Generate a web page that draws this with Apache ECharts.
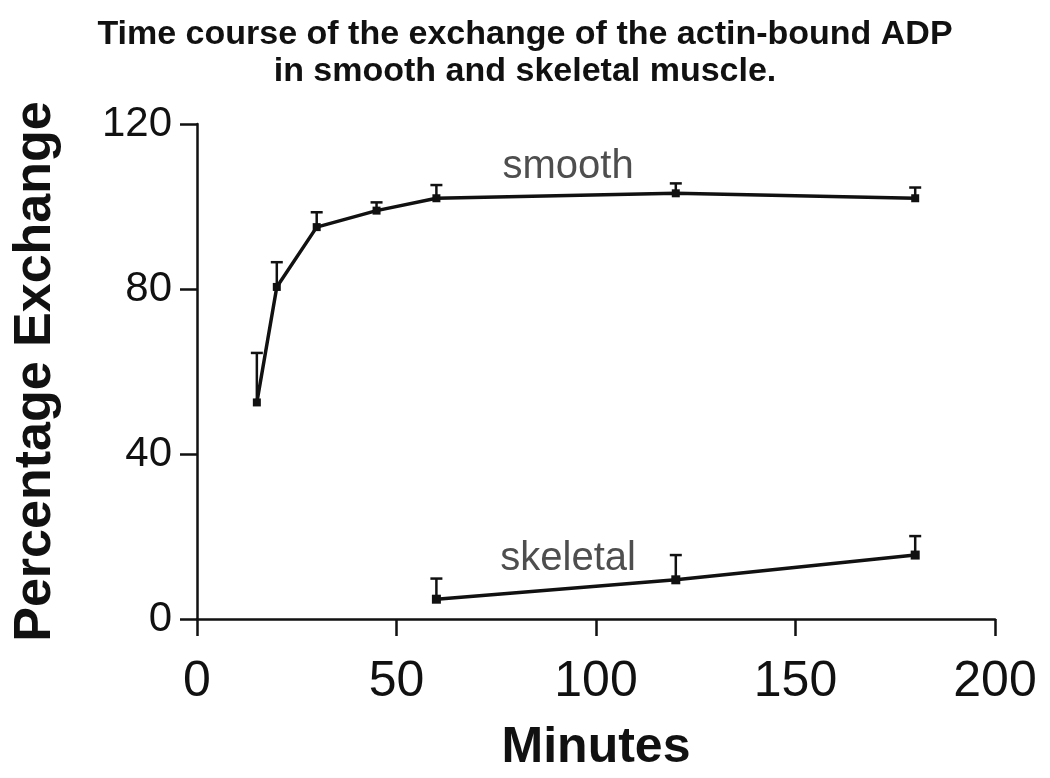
<!DOCTYPE html>
<html>
<head>
<meta charset="utf-8">
<script src="https://cdn.jsdelivr.net/npm/echarts@6/dist/echarts.min.js"></script>
<style>
html,body{margin:0;padding:0;background:#fff;}
#chart{width:1050px;height:778px;}
</style>
</head>
<body>
<div id="chart"></div>
<script>
// Data
const smoothMinutes = [15, 20, 30, 45, 60, 120, 180];
const smoothValues  = [52.5, 80.5, 95, 99, 102, 103.2, 102];
const smoothErrors  = [12, 6, 3.6, 2, 3.2, 2.4, 2.6];

const skeletalMinutes = [60, 120, 180];
const skeletalValues  = [4.8, 9.5, 15.5];
const skeletalErrors  = [5, 6, 4.6];

const xTicks = [0, 50, 100, 150, 200];
const yTicks = [0, 40, 80, 120];

const titleLines = ['Time course of the exchange of the actin-bound ADP', 'in smooth and skeletal muscle.'];
const seriesLabels = ['smooth', 'skeletal'];
const labelAnchors = [[93, 109.5], [93, 14.5]];

const FONT = '"Liberation Sans", Arial, Helvetica, sans-serif';

const pairs = (xs, ys) => xs.map((x, i) => [x, ys[i]]);
const errData = (xs, ys, es) => xs.map((x, i) => [x, ys[i], es[i]]);

function errorBarRender(params, api) {
  const x = api.value(0), y = api.value(1), e = api.value(2);
  const p = api.coord([x, y]);
  const t = api.coord([x, y + e]);
  const style = { stroke: '#111', lineWidth: 2.5 };
  return {
    type: 'group',
    children: [
      { type: 'line', shape: { x1: p[0], y1: p[1], x2: t[0], y2: t[1] }, style },
      { type: 'line', shape: { x1: t[0] - 6, y1: t[1], x2: t[0] + 6, y2: t[1] }, style }
    ]
  };
}

const chart = echarts.init(document.getElementById('chart'), null, { renderer: 'canvas' });

const option = {
  backgroundColor: '#fff',
  animation: false,
  title: {
    text: titleLines.join('\n'),
    left: 'center',
    top: 11,
    textStyle: { fontFamily: FONT, fontWeight: 'bold', fontSize: 34, lineHeight: 37, color: '#111' }
  },
  grid: { left: 197, right: 55, top: 124, bottom: 149, containLabel: false },
  xAxis: {
    type: 'value',
    min: 0, max: 200, interval: 50,
    name: 'Minutes',
    nameLocation: 'middle',
    nameGap: 104,
    nameTextStyle: { fontFamily: FONT, fontWeight: 'bold', fontSize: 50, color: '#111' },
    axisLine: { show: true, onZero: false, lineStyle: { color: '#111', width: 2.5 } },
    axisTick: { show: true, inside: false, length: 17, lineStyle: { color: '#111', width: 2.5 } },
    axisLabel: {
      margin: 38, fontFamily: FONT, fontSize: 50, color: '#111',
      formatter: v => xTicks.includes(v) ? String(v) : ''
    },
    splitLine: { show: false }
  },
  yAxis: {
    type: 'value',
    min: 0, max: 120, interval: 40,
    name: 'Percentage Exchange',
    nameLocation: 'middle',
    nameGap: 135,
    nameRotate: 90,
    nameTextStyle: { fontFamily: FONT, fontWeight: 'bold', fontSize: 52, color: '#111' },
    axisLine: { show: true, onZero: false, lineStyle: { color: '#111', width: 2.5 } },
    axisTick: { show: true, inside: false, length: 17, lineStyle: { color: '#111', width: 2.5 } },
    axisLabel: {
      margin: 25, fontFamily: FONT, fontSize: 42, color: '#111',
      padding: [8, 0, 0, 0],
      formatter: v => yTicks.includes(v) ? String(v) : ''
    },
    splitLine: { show: false }
  },
  series: [
    {
      name: 'smooth', type: 'line',
      data: pairs(smoothMinutes, smoothValues),
      symbol: 'rect', symbolSize: 8, showSymbol: true,
      lineStyle: { color: '#111', width: 3.5 },
      itemStyle: { color: '#111' },
      z: 3
    },
    {
      name: 'skeletal', type: 'line',
      data: pairs(skeletalMinutes, skeletalValues),
      symbol: 'rect', symbolSize: 9, showSymbol: true,
      lineStyle: { color: '#111', width: 3.5 },
      itemStyle: { color: '#111' },
      z: 3
    },
    {
      name: 'smoothErr', type: 'custom',
      renderItem: errorBarRender,
      data: errData(smoothMinutes, smoothValues, smoothErrors),
      z: 2
    },
    {
      name: 'skeletalErr', type: 'custom',
      renderItem: errorBarRender,
      data: errData(skeletalMinutes, skeletalValues, skeletalErrors),
      z: 2
    },
    {
      name: 'labels', type: 'scatter',
      data: labelAnchors.map((c, i) => ({ value: c, name: seriesLabels[i] })),
      symbol: 'circle', symbolSize: 1,
      itemStyle: { color: 'rgba(0,0,0,0)' },
      label: {
        show: true, position: 'inside', formatter: p => p.name,
        fontFamily: FONT, fontSize: 40, color: '#222'
      },
      silent: true,
      z: 4
    }
  ]
};

chart.setOption(option);
</script>
</body>
</html>
